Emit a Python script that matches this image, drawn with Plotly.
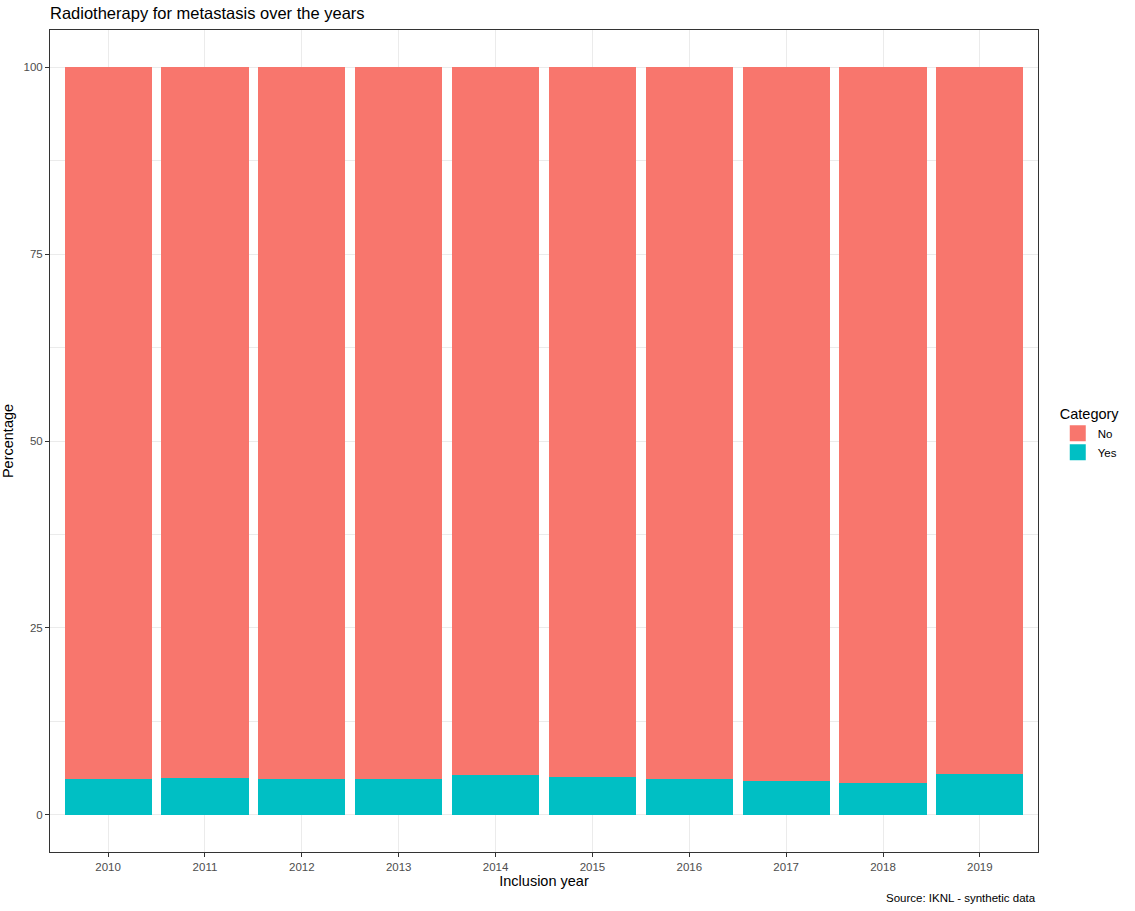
import plotly.graph_objects as go

years = ["2010", "2011", "2012", "2013", "2014", "2015", "2016", "2017", "2018", "2019"]
yes_pct = [4.8, 4.95, 4.75, 4.8, 5.35, 5.1, 4.8, 4.5, 4.3, 5.4]
no_pct = [round(100 - v, 2) for v in yes_pct]

font = "Liberation Sans, Arial, sans-serif"
colors = {"No": "#F8766D", "Yes": "#00BFC4"}

fig = go.Figure()
fig.add_trace(go.Bar(x=years, y=yes_pct, name="Yes", marker=dict(color=colors["Yes"], line=dict(width=0)),
                     width=0.9, showlegend=False))
fig.add_trace(go.Bar(x=years, y=no_pct, name="No", marker=dict(color=colors["No"], line=dict(width=0)),
                     width=0.9, showlegend=False))
# legend keys drawn as big squares like ggplot
for cat in ["No", "Yes"]:
    fig.add_trace(go.Scatter(x=[None], y=[None], mode="markers", name=cat,
                             marker=dict(symbol="square", size=20, color=colors[cat])))

fig.update_layout(
    template="none",
    barmode="stack",
    width=1135, height=911,
    margin=dict(l=50, r=97, t=30, b=59),
    paper_bgcolor="white", plot_bgcolor="white",
    font=dict(family=font, color="black"),
    title=dict(text="Radiotherapy for metastasis over the years", xref="paper", x=0, xanchor="left",
               yref="container", y=1 - 13 / 911, yanchor="middle", font=dict(size=16.5, color="black")),
    legend=dict(title=dict(text="Category", font=dict(size=14.5)), traceorder="normal",
                x=1.02, xanchor="left", y=0.55, yanchor="top", font=dict(size=11.5),
                itemwidth=30, tracegroupgap=0),
    showlegend=True,
)
fig.update_xaxes(
    type="category", range=[-0.6, 9.6], showgrid=True, gridcolor="#EBEBEB", gridwidth=1,
    ticks="outside", ticklen=4, tickcolor="#333333", tickfont=dict(size=11.5, color="#4D4D4D"),
    showline=True, linecolor="#333333", linewidth=1, mirror=True, zeroline=False,
    title=dict(text="Inclusion year", font=dict(size=14.5), standoff=3),
)
fig.update_yaxes(
    range=[-5, 105], tickvals=[0, 25, 50, 75, 100], showgrid=True, gridcolor="#EBEBEB", gridwidth=1,
    minor=dict(tickvals=[12.5, 37.5, 62.5, 87.5], showgrid=True, gridcolor="#EBEBEB", gridwidth=0.5),
    ticks="outside", ticklen=4, tickcolor="#333333", tickfont=dict(size=11.5, color="#4D4D4D"),
    showline=True, linecolor="#333333", linewidth=1, mirror=True, zeroline=False,
    title=dict(text="Percentage", font=dict(size=14.5), standoff=8),
)
fig.add_annotation(text="Source: IKNL - synthetic data", xref="paper", yref="paper", x=1, y=0,
                   xanchor="right", yanchor="top", yshift=-38, showarrow=False,
                   font=dict(size=11.5, color="black"))

fig.write_html("out.html", config={"displayModeBar": False},
               post_script="document.body.style.margin='0';")
